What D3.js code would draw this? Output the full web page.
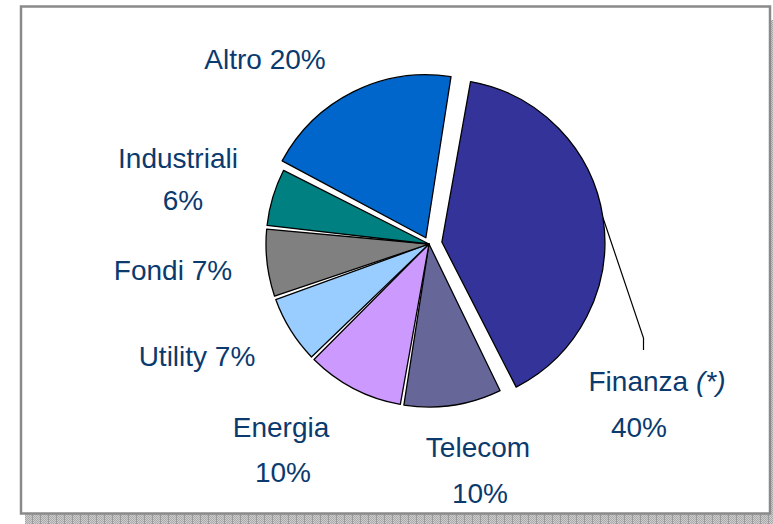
<!DOCTYPE html>
<html>
<head>
<meta charset="utf-8">
<script src="https://cdn.jsdelivr.net/npm/d3@7"></script>
<style>
  body { margin: 0; background: #fff; }
  text { font-family: Arial, "Liberation Sans", sans-serif; fill: #0B3A6E; }
</style>
</head>
<body>
<script>
// sectors, clockwise starting from Finanza
var categories = ['Finanza', 'Telecom', 'Energia', 'Utility', 'Fondi', 'Industriali', 'Altro'];
var shares = [40, 10, 10, 7, 7, 6, 20];
var colors = ['#333399', '#666699', '#CC99FF', '#99CCFF', '#808080', '#008080', '#0066CC'];
var exploded = [13, 0, 0, 0, 0, 0, 7];

// label layout (line1, line2, x, baseline)
var labels = [
  { lines: ['Finanza (*)', '40%'], xs: [657, 639], ys: [391, 437] },
  { lines: ['Telecom', '10%'], xs: [478, 480], ys: [457, 503] },
  { lines: ['Energia', '10%'], xs: [281, 283], ys: [437, 482] },
  { lines: ['Utility 7%'], xs: [197], ys: [366] },
  { lines: ['Fondi 7%'], xs: [173], ys: [280] },
  { lines: ['Industriali', '6%'], xs: [178, 183], ys: [168, 210] },
  { lines: ['Altro 20%'], xs: [265], ys: [69] }
];

var W = 773, H = 524;
var cx = 429, cy = 244, r = 163;
var startAngle = 9.5 * Math.PI / 180;

var svg = d3.select('body').append('svg').attr('width', W).attr('height', H);

// shadow pattern
var defs = svg.append('defs');
var pat = defs.append('pattern').attr('id', 'shade').attr('patternUnits', 'userSpaceOnUse')
  .attr('width', 8).attr('height', 8);
pat.append('rect').attr('width', 8).attr('height', 8).attr('fill', '#cfcfcf');
for (var i = 0; i < 8; i++) {
  for (var j = 0; j < 8; j++) {
    if ((i + j) % 2 == 0) pat.append('rect').attr('x', i).attr('y', j).attr('width', 1).attr('height', 1).attr('fill', '#a8a8a8');
  }
}
pat.append('rect').attr('x', 0).attr('y', 0).attr('width', 1).attr('height', 8).attr('fill', '#9a9a9a');

svg.append('rect').attr('x', 25).attr('y', 514).attr('width', W - 25).attr('height', H - 514).attr('fill', 'url(#shade)');
svg.append('rect').attr('x', 771).attr('y', 20).attr('width', 2).attr('height', H - 20).attr('fill', 'url(#shade)');

// frame
svg.append('rect').attr('x', 21).attr('y', 6.5).attr('width', 749).attr('height', 507)
  .attr('fill', '#fff').attr('stroke', '#8a8a8a').attr('stroke-width', 2.5);

var pie = d3.pie().sort(null).value(function(d) { return d; })
  .startAngle(startAngle).endAngle(startAngle + 2 * Math.PI);
var arcs = pie(shares);

var arc = d3.arc().innerRadius(0).outerRadius(r).padAngle(0.022).padRadius(r);

var g = svg.append('g').attr('transform', 'translate(' + cx + ',' + cy + ')');

g.selectAll('path').data(arcs).enter().append('path')
  .attr('d', arc)
  .attr('fill', function(d, i) { return colors[i]; })
  .attr('stroke', '#000').attr('stroke-width', 1.3).attr('stroke-linejoin', 'round')
  .attr('transform', function(d, i) {
    var a = (d.startAngle + d.endAngle) / 2;
    return 'translate(' + (Math.sin(a) * exploded[i]) + ',' + (-Math.cos(a) * exploded[i]) + ')';
  });

// leader line for Finanza
var f = arcs[0];
var fa = (f.startAngle + f.endAngle) / 2;
var p0 = [cx + Math.sin(fa) * (r + exploded[0]), cy - Math.cos(fa) * (r + exploded[0])];
svg.append('path')
  .attr('d', d3.line()([p0, [643.5, 338], [643.5, 350]]))
  .attr('fill', 'none').attr('stroke', '#000').attr('stroke-width', 1.2);

// labels
labels.forEach(function(l, i) {
  l.lines.forEach(function(t, k) {
    var txt = svg.append('text').attr('x', l.xs[k]).attr('y', l.ys[k])
      .attr('text-anchor', 'middle').attr('font-size', 28);
    if (t.indexOf('(*)') >= 0) {
      txt.append('tspan').text(t.replace(' (*)', ' '));
      txt.append('tspan').attr('font-style', 'italic').text('(*)');
    } else {
      txt.text(t);
    }
  });
});
</script>
</body>
</html>
